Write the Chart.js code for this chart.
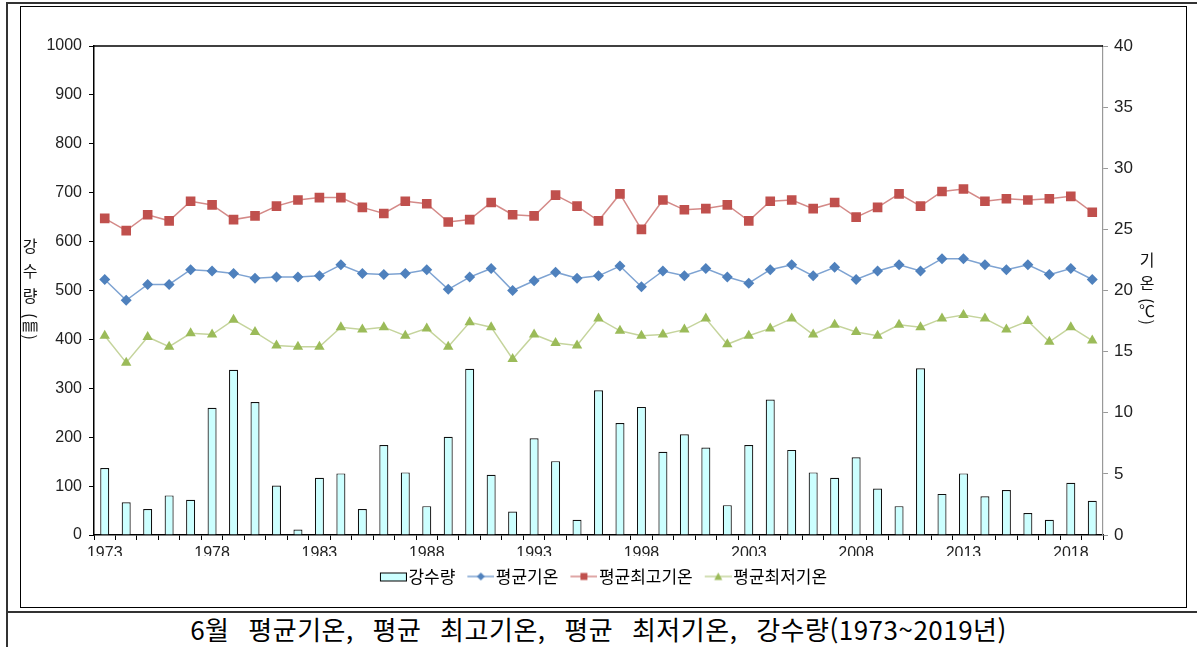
<!DOCTYPE html>
<html lang="ko">
<head>
<meta charset="utf-8">
<title>6월 평균기온, 평균 최고기온, 평균 최저기온, 강수량</title>
<script src="https://cdn.jsdelivr.net/npm/chart.js@4.4.1/dist/chart.umd.min.js"></script>
<style>
  html, body { margin: 0; padding: 0; background: #fff; }
  body { width: 1197px; height: 647px; position: relative; overflow: hidden; font-family: 'Noto Sans CJK KR', sans-serif; }
  .frame { position: absolute; left: 6px; top: 2px; right: -4px; bottom: -4px; border-left: 2px solid #333; border-top: 2px solid #333; }
  .sep { position: absolute; left: 6px; right: 0; top: 611px; border-top: 2px solid #333; }
  .box { position: absolute; left: 20px; top: 6px; width: 1165px; height: 600px; border: 1px solid #000; }
  .vt { position: absolute; writing-mode: vertical-rl; font-size: 16px; line-height: 1; color: #111; }
  .caption { position: absolute; left: 0; width: 1197px; top: 612px; text-align: center; font-size: 26px; line-height: 1.3; word-spacing: 11px; letter-spacing: 0.5px; color: #000; }
</style>
</head>
<body>
<div class="frame"></div>
<div class="sep"></div>
<div class="box"><canvas id="chart"></canvas></div>
<div class="vt" style="left:22px; top:238px;"><span style="letter-spacing:9px">강수량</span>(㎜)</div>
<div class="vt" style="left:1139px; top:252px;"><span style="letter-spacing:7px">기온</span>(℃)</div>
<div class="caption">6월 평균기온, 평균 최고기온, 평균 최저기온, 강수량(1973~2019년)</div>

<script>
'use strict';
// 연도 (카테고리)
const years = [1973, 1974, 1975, 1976, 1977, 1978, 1979, 1980, 1981, 1982,
  1983, 1984, 1985, 1986, 1987, 1988, 1989, 1990, 1991, 1992,
  1993, 1994, 1995, 1996, 1997, 1998, 1999, 2000, 2001, 2002,
  2003, 2004, 2005, 2006, 2007, 2008, 2009, 2010, 2011, 2012,
  2013, 2014, 2015, 2016, 2017, 2018, 2019];

// 강수량 (mm)
const rain = [137, 67, 53, 81, 72, 260, 338, 272, 101, 11,
  117, 126, 53, 184, 128, 59, 201, 340, 123, 48,
  198, 151, 31, 296, 229, 262, 170, 206, 179, 61,
  184, 277, 174, 128, 117, 159, 95, 59, 341, 84,
  126, 79, 92, 45, 31, 107, 70];

// 평균기온 (℃)
const tMean = [20.9, 19.2, 20.5, 20.5, 21.7, 21.6, 21.4, 21.0, 21.1, 21.1,
  21.2, 22.1, 21.4, 21.3, 21.4, 21.7, 20.1, 21.1, 21.8, 20.0,
  20.8, 21.5, 21.0, 21.2, 22.0, 20.3, 21.6, 21.2, 21.8, 21.1,
  20.6, 21.7, 22.1, 21.2, 21.9, 20.9, 21.6, 22.1, 21.6, 22.6,
  22.6, 22.1, 21.7, 22.1, 21.3, 21.8, 20.9];

// 평균최고기온 (℃)
const tMax = [25.9, 24.9, 26.2, 25.7, 27.3, 27.0, 25.8, 26.1, 26.9, 27.4,
  27.6, 27.6, 26.8, 26.3, 27.3, 27.1, 25.6, 25.8, 27.2, 26.2,
  26.1, 27.8, 26.9, 25.7, 27.9, 25.0, 27.4, 26.6, 26.7, 27.0,
  25.7, 27.3, 27.4, 26.7, 27.2, 26.0, 26.8, 27.9, 26.9, 28.1,
  28.3, 27.3, 27.5, 27.4, 27.5, 27.7, 26.4];

// 평균최저기온 (℃)
const tMin = [16.3, 14.1, 16.2, 15.4, 16.5, 16.4, 17.6, 16.6, 15.5, 15.4,
  15.4, 17.0, 16.8, 17.0, 16.3, 16.9, 15.4, 17.4, 17.0, 14.4,
  16.4, 15.7, 15.5, 17.7, 16.7, 16.3, 16.4, 16.8, 17.7, 15.6,
  16.3, 16.9, 17.7, 16.4, 17.2, 16.6, 16.3, 17.2, 17.0, 17.7,
  18.0, 17.7, 16.8, 17.5, 15.8, 17.0, 15.9];

const tickFont = { family: "'Liberation Sans', Arial, sans-serif", size: 16 };
const tickColor = '#222';

// 범례 아이콘 (선 + 마커)
function legendIcon(kind, lineColor, fillColor) {
  const c = document.createElement('canvas');
  c.width = 34;
  c.height = 14;
  const g = c.getContext('2d');
  if (kind === 'bar') {
    g.fillStyle = fillColor;
    g.strokeStyle = '#000';
    g.lineWidth = 1;
    g.fillRect(7.5, 3.5, 26, 8);
    g.strokeRect(7.5, 3.5, 26, 8);
    return c;
  }
  g.strokeStyle = lineColor;
  g.lineWidth = 1.5;
  g.beginPath();
  g.moveTo(7, 7);
  g.lineTo(34, 7);
  g.stroke();
  g.fillStyle = fillColor;
  g.beginPath();
  const cx = 20.5, cy = 7;
  if (kind === 'diamond') {
    g.moveTo(cx, cy - 4); g.lineTo(cx + 4, cy); g.lineTo(cx, cy + 4); g.lineTo(cx - 4, cy);
  } else if (kind === 'square') {
    g.rect(cx - 3.5, cy - 3.5, 7, 7);
  } else {
    g.moveTo(cx, cy - 4); g.lineTo(cx + 4, cy + 3.5); g.lineTo(cx - 4, cy + 3.5);
  }
  g.closePath();
  g.fill();
  return c;
}

const icons = [
  legendIcon('bar', '#000', '#ccffff'),
  legendIcon('diamond', '#7ea3d2', '#4f81bd'),
  legendIcon('square', '#d48a88', '#c0504d'),
  legendIcon('triangle', '#c5d49c', '#9bbb59')
];

// 플롯 영역 윗선
const topLine = {
  id: 'topLine',
  afterDraw(chart) {
    const { ctx, chartArea: a } = chart;
    ctx.save();
    ctx.strokeStyle = '#000';
    ctx.lineWidth = 1.5;
    ctx.beginPath();
    ctx.moveTo(a.left, a.top);
    ctx.lineTo(a.right, a.top);
    ctx.stroke();
    ctx.restore();
  }
};

const ctx = document.getElementById('chart').getContext('2d');
const chart = new Chart(ctx, {
  data: {
    labels: years,
    datasets: [{
      type: 'bar',
      label: '강수량',
      data: rain,
      yAxisID: 'yRain',
      backgroundColor: '#ccffff',
      borderColor: '#111',
      borderWidth: 1.2,
      barPercentage: 0.42,
      categoryPercentage: 1,
      order: 2
    }, {
      type: 'line',
      label: '평균기온',
      data: tMean,
      yAxisID: 'yTemp',
      borderColor: '#7ea3d2',
      borderWidth: 1.5,
      pointStyle: 'rectRot',
      pointRadius: 5.5,
      pointBackgroundColor: '#4f81bd',
      pointBorderWidth: 0,
      tension: 0,
      order: 1
    }, {
      type: 'line',
      label: '평균최고기온',
      data: tMax,
      yAxisID: 'yTemp',
      borderColor: '#d48a88',
      borderWidth: 1.5,
      pointStyle: 'rect',
      pointRadius: 6.8,
      pointBackgroundColor: '#c0504d',
      pointBorderWidth: 0,
      tension: 0,
      order: 1
    }, {
      type: 'line',
      label: '평균최저기온',
      data: tMin,
      yAxisID: 'yTemp',
      borderColor: '#c5d49c',
      borderWidth: 1.5,
      pointStyle: 'triangle',
      pointRadius: 6,
      pointBackgroundColor: '#9bbb59',
      pointBorderWidth: 0,
      tension: 0,
      order: 1
    }]
  },
  options: {
    responsive: true,
    maintainAspectRatio: false,
    animation: false,
    layout: { padding: { top: 39, left: 0, right: 0, bottom: 12 } },
    scales: {
      x: {
        type: 'category',
        offset: true,
        grid: { display: true, drawOnChartArea: false, tickLength: 5, color: '#000', offset: true },
        border: { display: true, color: '#000', width: 1.5 },
        ticks: {
          autoSkip: false,
          maxRotation: 0,
          padding: 4,
          color: tickColor,
          font: tickFont,
          callback: (v, i) => ((years[i] - 1973) % 5 === 0 ? String(years[i]) : '')
        },
        afterFit(s) { s.height = 21; }
      },
      yRain: {
        type: 'linear',
        position: 'left',
        min: 0,
        max: 1000,
        ticks: { stepSize: 100, padding: 7, color: tickColor, font: tickFont, callback: (v) => String(v) },
        grid: { drawOnChartArea: false, tickLength: 5, color: '#000' },
        border: { color: '#000', width: 1.5 },
        afterFit(s) { s.width = 73; }
      },
      yTemp: {
        type: 'linear',
        position: 'right',
        min: 0,
        max: 40,
        ticks: { stepSize: 5, padding: 6, color: tickColor, font: { family: tickFont.family, size: 17 }, callback: (v) => String(v) },
        grid: { drawOnChartArea: false, tickLength: 5, color: '#999' },
        border: { color: '#999', width: 1.2 },
        afterFit(s) { s.width = 83; }
      }
    },
    plugins: {
      tooltip: { enabled: false },
      legend: {
        position: 'bottom',
        labels: {
          usePointStyle: true,
          pointStyleWidth: 20,
          padding: 12,
          color: '#000',
          font: { family: "'Noto Sans CJK KR', sans-serif", size: 17 },
          generateLabels: (ch) => ch.data.datasets.map((ds, i) => ({
            text: ds.label,
            pointStyle: icons[i],
            fillStyle: 'transparent',
            strokeStyle: 'transparent',
            lineWidth: 0,
            fontColor: '#000',
            hidden: !ch.isDatasetVisible(i),
            datasetIndex: i
          }))
        }
      }
    }
  },
  plugins: [topLine]
});
</script>
</body>
</html>
